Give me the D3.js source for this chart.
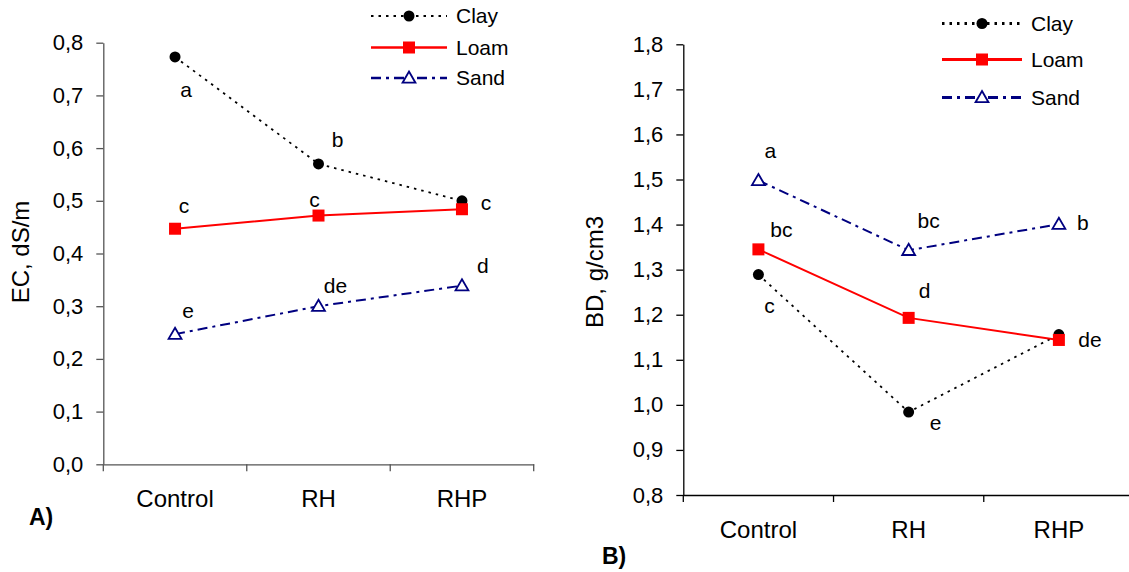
<!DOCTYPE html>
<html>
<head>
<meta charset="utf-8">
<script src="https://cdn.jsdelivr.net/npm/d3@7"></script>
<style>
  body { margin: 0; background: #fff; }
  svg { display: block; font-family: Arial, "Liberation Sans", sans-serif; }
</style>
</head>
<body>
<svg id="canvas"></svg>
<script>
// treatments on the x axis
const categories = ['Control', 'RH', 'RHP']
const soils = ['Clay', 'Loam', 'Sand']

// A) EC, dS/m
const ecClay = [0.773, 0.570, 0.500]
const ecLoam = [0.447, 0.472, 0.484]
const ecSand = [0.247, 0.300, 0.339]
const ecClayLetters = ['a', 'b', 'c']
const ecLoamLetters = ['c', 'c', '']
const ecSandLetters = ['e', 'de', 'd']
const ecTicks = [0, 0.1, 0.2, 0.3, 0.4, 0.5, 0.6, 0.7, 0.8]

// B) BD, g/cm3
const bdClay = [1.289, 0.984, 1.156]
const bdLoam = [1.345, 1.193, 1.144]
const bdSand = [1.498, 1.343, 1.401]
const bdClayLetters = ['c', 'e', '']
const bdLoamLetters = ['bc', 'd', 'de']
const bdSandLetters = ['a', 'bc', 'b']
const bdTicks = [0.8, 0.9, 1.0, 1.1, 1.2, 1.3, 1.4, 1.5, 1.6, 1.7, 1.8]

let width = 1129,
height = 572

let canvas = d3.select('#canvas')
.attr('width', width)
.attr('height', height)

const comma = d3.formatLocale({decimal: ',', thousands: '.', grouping: [3], currency: ['', '']}).format('.1f')

const styles = {
    Clay: {color: '#000', dash: '2.5,5', width: 1.8},
    Loam: {color: '#ff0000', dash: null, width: 2},
    Sand: {color: '#000080', dash: '10,5,3,5', width: 2}
}

let drawMarker = (g, soil, x, y) => {
    if (soil === 'Clay') {
        g.append('circle').attr('cx', x).attr('cy', y).attr('r', 5.5).attr('fill', '#000')
    } else if (soil === 'Loam') {
        g.append('rect').attr('x', x - 6).attr('y', y - 6).attr('width', 12).attr('height', 12).attr('fill', '#ff0000')
    } else {
        g.append('path')
        .attr('d', d3.symbol(d3.symbolTriangle, 72)())
        .attr('transform', `translate(${x},${y + 1})`)
        .attr('fill', '#fff')
        .attr('stroke', '#000080')
        .attr('stroke-width', 1.8)
    }
}

// panel: scales, axes, lines, letters, legend
let drawPanel = (p) => {
    let x = d3.scaleBand().domain(categories).range(p.xRange)
    let y = d3.scaleLinear().domain(p.domain).range(p.yRange)
    let g = canvas.append('g')

    // y axis
    let yAxis = g.append('g')
    .attr('transform', `translate(${p.xRange[0]},0)`)
    .call(d3.axisLeft(y).tickValues(p.ticks).tickFormat(comma).tickSize(7).tickSizeOuter(0).tickPadding(13))
    yAxis.selectAll('text').attr('font-size', 22).attr('fill', '#000').attr('font-family', null)
    yAxis.selectAll('line, path').attr('stroke', p.axisColor).attr('stroke-width', 1.3)

    // x axis, ticks between categories
    let xAxis = g.append('g')
    .attr('transform', `translate(0,${p.yRange[0]})`)
    .call(d3.axisBottom(x).tickSize(0).tickPadding(26).tickSizeOuter(0))
    xAxis.selectAll('text').attr('font-size', 24).attr('fill', '#000').attr('font-family', null)
    xAxis.select('.domain').attr('stroke', p.axisColor).attr('stroke-width', 1.3)
    let bounds = categories.map(c => x(c)).concat([x.range()[1]])
    xAxis.selectAll('.bound').data(bounds).enter().append('line')
    .attr('x1', d => d).attr('x2', d => d).attr('y1', 0).attr('y2', 7)
    .attr('stroke', p.axisColor).attr('stroke-width', 1.3)

    // axis title
    g.append('text')
    .attr('transform', `translate(${p.titleX},${p.titleY}) rotate(-90)`)
    .attr('text-anchor', 'middle')
    .attr('font-size', 24)
    .text(p.title)

    g.append('text')
    .attr('x', p.tagX).attr('y', p.tagY)
    .attr('font-size', 23).attr('font-weight', 'bold')
    .text(p.tag)

    let line = d3.line().x((d, i) => x(categories[i]) + x.bandwidth() / 2).y(d => y(d))

    p.series.forEach(s => {
        let st = styles[s.soil]
        g.append('path')
        .attr('d', line(s.values))
        .attr('fill', 'none')
        .attr('stroke', st.color)
        .attr('stroke-width', st.width)
        .attr('stroke-dasharray', st.dash)
    })
    p.series.forEach(s => {
        s.values.forEach((v, i) => drawMarker(g, s.soil, x(categories[i]) + x.bandwidth() / 2, y(v)))
    })
    p.series.forEach((s, si) => {
        s.letters.forEach((t, i) => {
            if (!t) return
            let off = p.offsets[si][i]
            g.append('text')
            .attr('x', x(categories[i]) + x.bandwidth() / 2 + off[0])
            .attr('y', y(s.values[i]) + off[1])
            .attr('dy', '0.35em')
            .attr('text-anchor', 'middle')
            .attr('font-size', 21)
            .text(t)
        })
    })

    // legend
    soils.forEach((soil, i) => {
        let st = styles[soil]
        let ly = p.legendY[i]
        g.append('line')
        .attr('x1', p.legendX[0]).attr('x2', p.legendX[1])
        .attr('y1', ly).attr('y2', ly)
        .attr('stroke', st.color)
        .attr('stroke-width', st.width + p.legendExtra)
        .attr('stroke-dasharray', st.dash)
        drawMarker(g, soil, (p.legendX[0] + p.legendX[1]) / 2, ly)
        g.append('text')
        .attr('x', p.legendX[1] + 9).attr('y', ly)
        .attr('dy', '0.35em')
        .attr('font-size', 21)
        .text(soil)
    })
}

drawPanel({
    domain: [0, 0.8], ticks: ecTicks,
    xRange: [103.3, 533.7], yRange: [464.3, 42.7],
    axisColor: '#555',
    title: 'EC, dS/m', titleX: 29, titleY: 252,
    tag: 'A)', tagX: 29, tagY: 525,
    series: [
        {soil: 'Clay', values: ecClay, letters: ecClayLetters},
        {soil: 'Loam', values: ecLoam, letters: ecLoamLetters},
        {soil: 'Sand', values: ecSand, letters: ecSandLetters}
    ],
    offsets: [
        [[11, 33], [19, -24], [24, 2]],
        [[9, -23], [-4, -16], [0, 0]],
        [[13, -23], [17, -21], [21, -20]]
    ],
    legendX: [371, 447], legendY: [16, 47.5, 78], legendExtra: 0.3
})

drawPanel({
    domain: [0.8, 1.8], ticks: bdTicks,
    xRange: [683.3, 1134], yRange: [495, 44.3],
    axisColor: '#000',
    title: 'BD, g/cm3', titleX: 603, titleY: 272,
    tag: 'B)', tagX: 602, tagY: 564,
    series: [
        {soil: 'Clay', values: bdClay, letters: bdClayLetters},
        {soil: 'Loam', values: bdLoam, letters: bdLoamLetters},
        {soil: 'Sand', values: bdSand, letters: bdSandLetters}
    ],
    offsets: [
        [[11, 31], [27, 11], [0, 0]],
        [[23, -20], [16, -27], [31, 0]],
        [[12, -30], [20, -30], [24, -1]]
    ],
    legendX: [942, 1022], legendY: [23.5, 59.5, 97.5], legendExtra: 1
})
</script>
</body>
</html>
